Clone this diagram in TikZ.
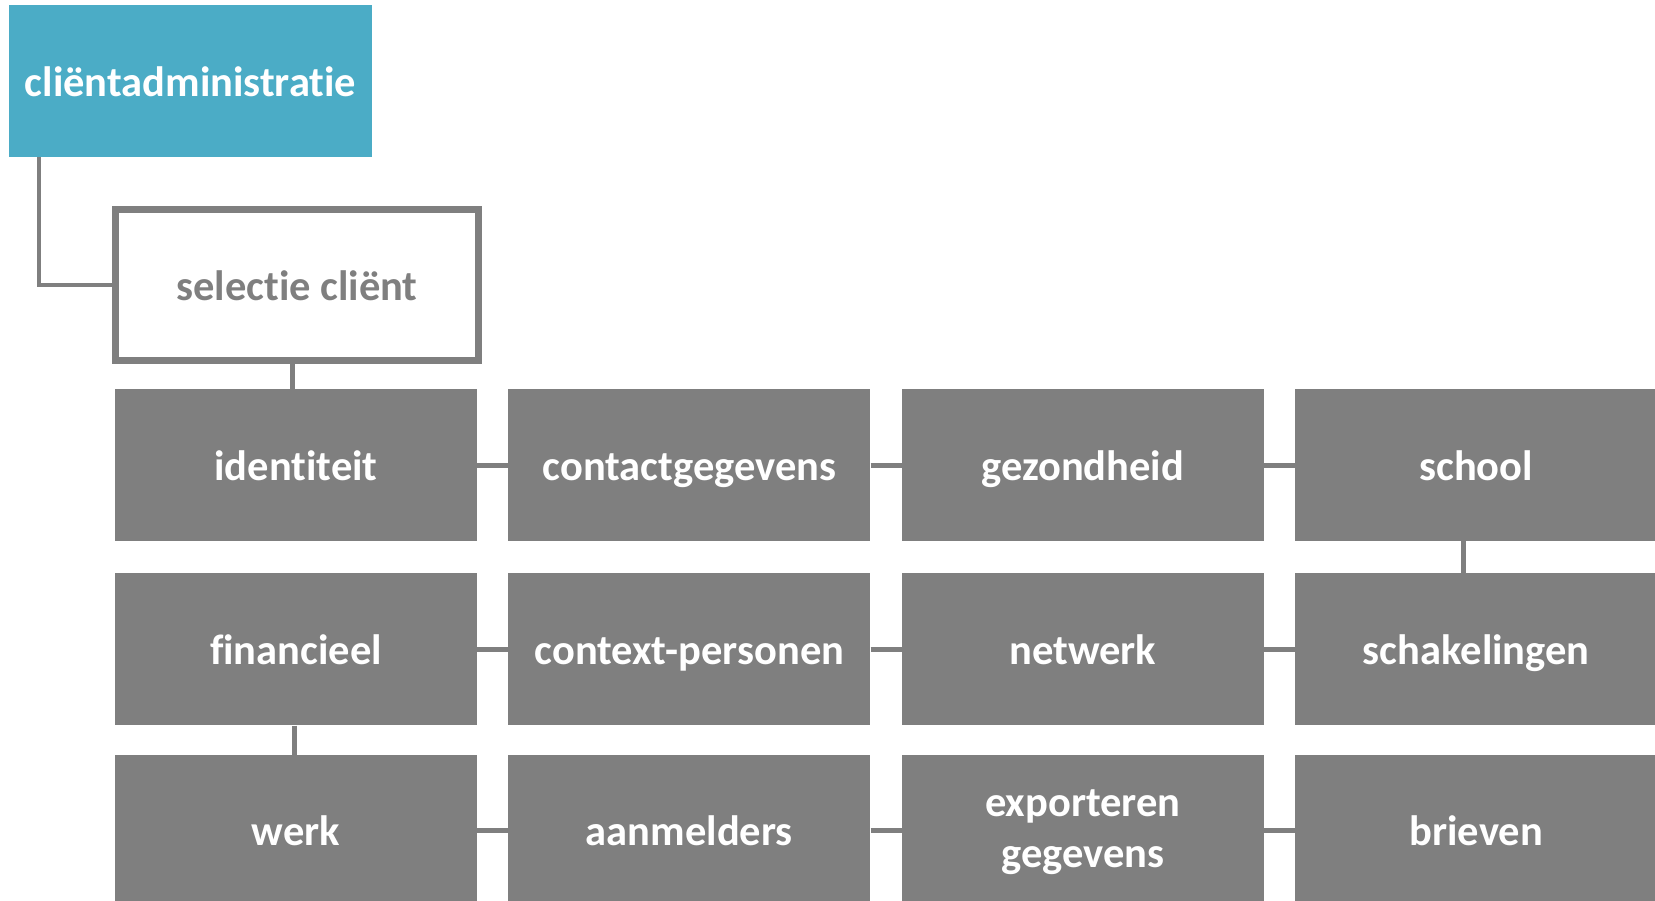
\documentclass[tikz,border=0pt]{standalone}
\usepackage{fontspec}
\setmainfont{Carlito}[Ligatures=NoCommon]
\usetikzlibrary{positioning}
\definecolor{tealbox}{HTML}{4BACC6}
\definecolor{greybox}{HTML}{7F7F7F}
\tikzset{
	item/.style = {fill=greybox, text=white, minimum width=362pt, minimum height=152pt, inner sep=0pt, align=center},
	link/.style = {draw=greybox, line width=5pt},
}

\begin{document}
\begin{tikzpicture}[x=1pt, y=-1pt, font=\fontsize{42.5}{51}\selectfont\bfseries, text height=40pt, text depth=10pt]
		\clip (0,0) rectangle (1655,900);
		\node[fill=tealbox, text=white, minimum width=363pt, minimum height=152pt, inner sep=0pt] (admin) at (190.5,81) {cliëntadministratie};
		\node[draw=greybox, line width=7pt, text=greybox, minimum width=363pt, minimum height=151pt, inner sep=0pt] (select) at (297,285) {selectie cliënt};
		\node[item] (ident) at (296,465) {identiteit};
		\node[item, right=31pt of ident] (contact) {contactgegevens};
		\node[item, right=31pt of contact] (health) {gezondheid};
		\node[item, right=31pt of health] (school) {school};
		\node[item, below=32pt of ident] (finance) {financieel};
		\node[item, right=31pt of finance] (persons) {context-personen};
		\node[item, right=31pt of persons] (network) {netwerk};
		\node[item, right=31pt of network] (switches) {schakelingen};
		\node[item, below=29pt of finance] (work) {werk};
		\node[item, right=31pt of work] (senders) {aanmelders};
		\node[item, right=31pt of senders, text height=84pt] (export) {exporteren\\gegevens};
		\node[item, right=31pt of export] (letters) {brieven};
		\draw[link, line width=4.5pt] ([xshift=30pt]admin.south west) |- (select.west);
		\draw[link] ([xshift=-5pt]select.south) -- ([xshift=-4pt]ident.north);
		\draw[link] (ident.east) -- (contact.west);
		\draw[link] (contact.east) -- (health.west);
		\draw[link] (health.east) -- (school.west);
		\draw[link] (finance.east) -- (persons.west);
		\draw[link] (persons.east) -- (network.west);
		\draw[link] (network.east) -- (switches.west);
		\draw[link] (work.east) -- (senders.west);
		\draw[link] (senders.east) -- (export.west);
		\draw[link] (export.east) -- (letters.west);
		\draw[link] ([xshift=-13pt]school.south) -- ([xshift=-13pt]switches.north);
		\draw[link] ([xshift=-2pt]finance.south) -- ([xshift=-2pt]work.north);
	\end{tikzpicture}
\end{document}
